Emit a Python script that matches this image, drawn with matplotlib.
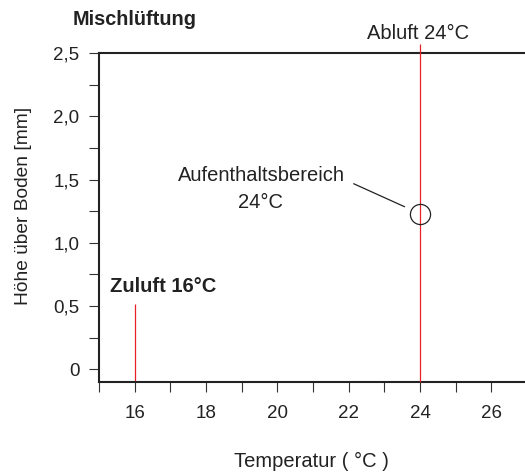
import matplotlib
matplotlib.use("Agg")
import matplotlib.pyplot as plt
from matplotlib.ticker import MultipleLocator, FixedLocator

plt.rcParams['font.family'] = ['Liberation Sans', 'DejaVu Sans']

# Temperatures and heights
zuluft_temp = 16
zuluft_height = 0.52
abluft_temp = 24
aufenthalt_temp = 24
aufenthalt_height = 1.23

x_major = [16, 18, 20, 22, 24, 26]
x_minor = [15, 17, 19, 21, 23, 25, 27]
y_major = [0, 0.5, 1.0, 1.5, 2.0, 2.5]
y_labels = ['0', '0,5', '1,0', '1,5', '2,0', '2,5']

title = 'Mischlüftung'
xlabel = 'Temperatur ( °C )'
ylabel = 'Höhe über Boden [mm]'

W, H = 525, 474
fig = plt.figure(figsize=(W / 100, H / 100), dpi=100)
ax = fig.add_axes([99 / W, 92 / H, (527 - 99) / W, (421 - 92) / H])

ax.set_xlim(15, 27)
ax.set_ylim(-0.1, 2.5)

spine_col = '#222222'
for s in ['left', 'top', 'bottom']:
    ax.spines[s].set_linewidth(1.5)
    ax.spines[s].set_color(spine_col)
ax.spines['right'].set_visible(False)

ax.xaxis.set_major_locator(FixedLocator(x_major))
ax.xaxis.set_minor_locator(FixedLocator(x_minor))
ax.set_xticklabels([str(v) for v in x_major])
ax.yaxis.set_major_locator(FixedLocator(y_major))
ax.yaxis.set_minor_locator(MultipleLocator(0.25))
ax.set_yticklabels(y_labels)

ax.tick_params(axis='both', which='both', direction='out', length=7,
               width=0.8, color='#333333', labelsize=13.5, labelcolor='#222222')
ax.tick_params(axis='x', which='both', top=False, pad=9.5)
ax.tick_params(axis='y', which='both', right=False, pad=7)

red = '#e8202a'
# Supply air line
ax.plot([zuluft_temp, zuluft_temp], [-0.1, zuluft_height], color=red, lw=0.9,
        solid_capstyle='butt')
# Exhaust air line, reaching above the frame
ax.plot([abluft_temp, abluft_temp], [-0.1, 2.57], color=red, lw=0.9,
        clip_on=False, solid_capstyle='butt', zorder=3)

# Occupied zone marker
ax.plot([aufenthalt_temp], [aufenthalt_height], marker='o', markersize=14.5,
        markerfacecolor='none', markeredgecolor='#222222', markeredgewidth=0.9,
        zorder=4)
ax.annotate('', xy=(aufenthalt_temp, aufenthalt_height), xytext=(22.14, 1.467),
            arrowprops=dict(arrowstyle='-', color='#222222', lw=0.9,
                            shrinkA=0, shrinkB=12.2))

txt = dict(color='#222222', fontsize=14.5)


def px(x, y):
    # figure pixel position (from top-left) to figure fraction
    return x / W, 1 - y / H


fig.text(*px(261.7, 180.7), 'Aufenthaltsbereich', ha='center', va='baseline', **txt)
fig.text(*px(260.5, 208.3), f'{aufenthalt_temp}°C', ha='center', va='baseline', **txt)
fig.text(*px(418.5, 39.3), f'Abluft {abluft_temp}°C', ha='center', va='baseline', **txt)
fig.text(*px(110, 291.7), f'Zuluft {zuluft_temp}°C', ha='left', va='baseline',
         fontweight='bold', **txt)

fig.text(*px(73, 25), title, ha='left', va='baseline', fontsize=14.3,
         fontweight='bold', color='#222222')
fig.text(*px(311.5, 466.7), xlabel, ha='center', va='baseline', fontsize=14.5,
         color='#222222')
fig.text(*px(28, 205.5), ylabel, ha='center', va='baseline', rotation=90,
         rotation_mode='anchor', fontsize=13.8, color='#222222')

fig.savefig('out.png', dpi=100)
